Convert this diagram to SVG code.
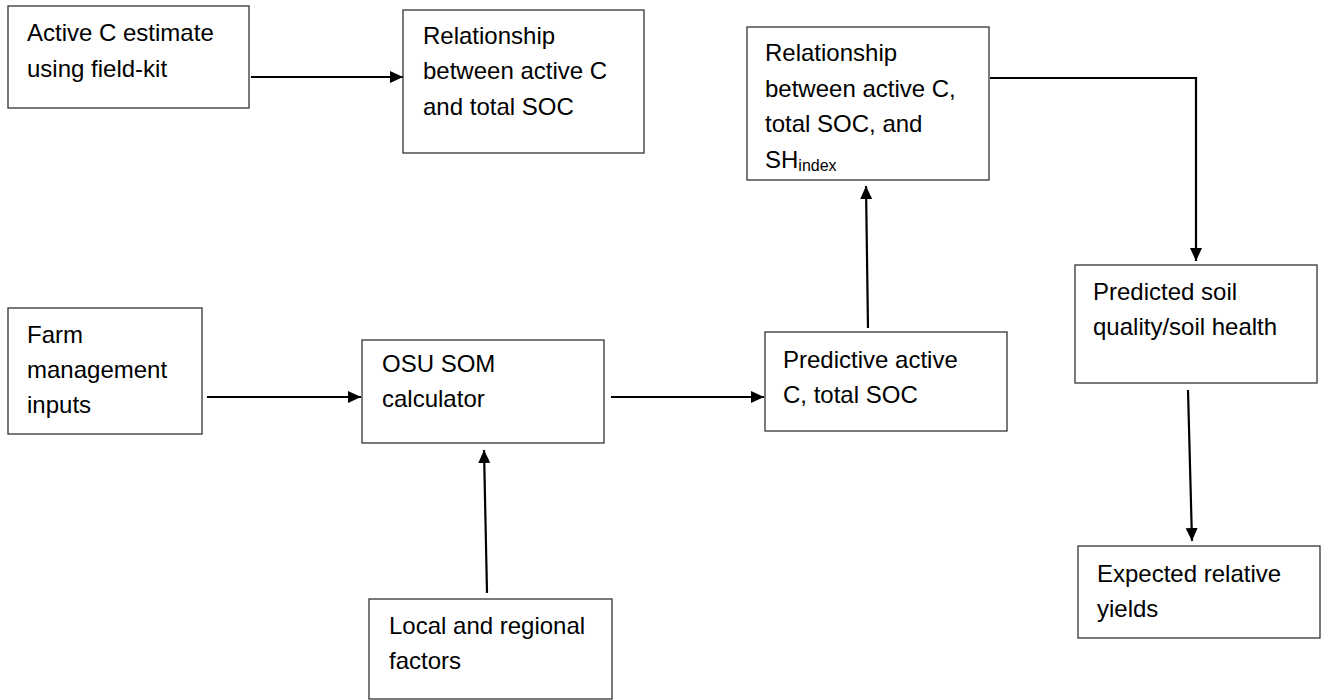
<svg xmlns="http://www.w3.org/2000/svg" width="1322" height="700" viewBox="0 0 1322 700">
<style>
.box{fill:#fff;stroke:#333;stroke-width:1.3}
.t{font-family:"Liberation Sans",Arial,sans-serif;font-size:24px;fill:#000}
.c{fill:none;stroke:#000;stroke-width:2.2}
</style>
<defs>
<marker id="ah" markerUnits="userSpaceOnUse" markerWidth="14" markerHeight="14" viewBox="0 0 14 14" refX="13" refY="7" orient="auto">
<path d="M0,1 L13,7 L0,13 Z" fill="#000"/>
</marker>
</defs>
<rect width="1322" height="700" fill="#fff"/>
<g id="connectors">
<line class="c" x1="251" y1="77" x2="403" y2="77" marker-end="url(#ah)"/>
<polyline class="c" points="990,78 1196,78 1196,261" marker-end="url(#ah)"/>
<line class="c" x1="207" y1="397" x2="361" y2="397" marker-end="url(#ah)"/>
<line class="c" x1="611" y1="397" x2="764" y2="397" marker-end="url(#ah)"/>
<line class="c" x1="868" y1="328" x2="866" y2="186" marker-end="url(#ah)"/>
<line class="c" x1="487" y1="593" x2="484" y2="450" marker-end="url(#ah)"/>
<line class="c" x1="1188" y1="390" x2="1192" y2="541" marker-end="url(#ah)"/>
</g>
<g id="n1">
<rect class="box" x="8" y="6" width="241" height="102"/>
<text class="t" x="27" y="41">Active C estimate</text>
<text class="t" x="27" y="77">using field-kit</text>
</g>
<g id="n2">
<rect class="box" x="403" y="10" width="241" height="143"/>
<text class="t" x="423" y="44">Relationship</text>
<text class="t" x="423" y="79">between active C</text>
<text class="t" x="423" y="115">and total SOC</text>
</g>
<g id="n3">
<rect class="box" x="747" y="27" width="242" height="153"/>
<text class="t" x="765" y="61">Relationship</text>
<text class="t" x="765" y="97">between active C,</text>
<text class="t" x="765" y="132">total SOC, and</text>
<text class="t" x="765" y="168">SH<tspan font-size="16" dy="3">index</tspan></text>
</g>
<g id="n4">
<rect class="box" x="8" y="308" width="194" height="126"/>
<text class="t" x="27" y="343">Farm</text>
<text class="t" x="27" y="378">management</text>
<text class="t" x="27" y="413">inputs</text>
</g>
<g id="n5">
<rect class="box" x="362" y="340" width="242" height="103"/>
<text class="t" x="382" y="372">OSU SOM</text>
<text class="t" x="382" y="407">calculator</text>
</g>
<g id="n6">
<rect class="box" x="765" y="332" width="242" height="99"/>
<text class="t" x="783" y="368">Predictive active</text>
<text class="t" x="783" y="403">C, total SOC</text>
</g>
<g id="n7">
<rect class="box" x="1075" y="265" width="242" height="118"/>
<text class="t" x="1093" y="300">Predicted soil</text>
<text class="t" x="1093" y="335">quality/soil health</text>
</g>
<g id="n8">
<rect class="box" x="1078" y="546" width="242" height="92"/>
<text class="t" x="1097" y="582">Expected relative</text>
<text class="t" x="1097" y="617">yields</text>
</g>
<g id="n9">
<rect class="box" x="369" y="599" width="243" height="100"/>
<text class="t" x="389" y="634">Local and regional</text>
<text class="t" x="389" y="669">factors</text>
</g>
</svg>
